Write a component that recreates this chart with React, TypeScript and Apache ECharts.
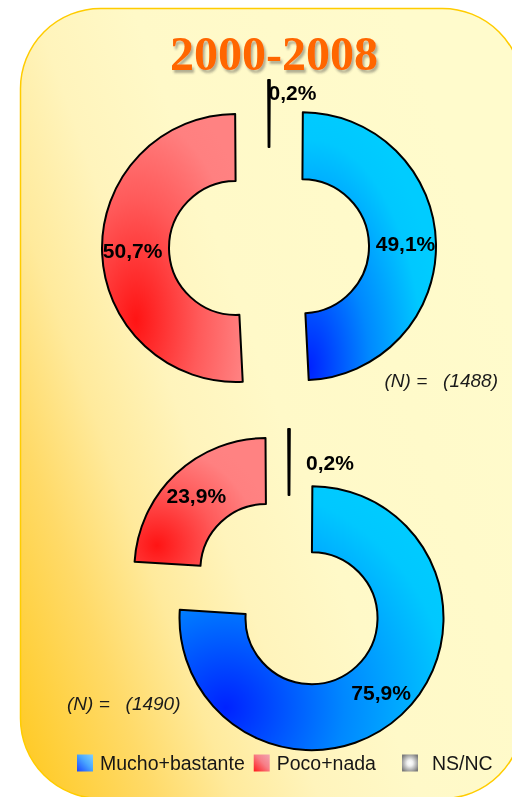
import React, { useEffect, useRef } from 'react';
import * as echarts from 'echarts';

const categories = ['NS/NC', 'Mucho+bastante', 'Poco+nada'];
const values2000 = [0.2, 49.1, 50.7];
const values2008 = [0.2, 75.9, 23.9];
const sampleSizes = [1488, 1490];
const titleText = '2000-2008';

type Stop = [number, string];
const radial = (x: number, y: number, r: number, stops: Stop[]) => ({
  type: 'radial', x, y, r,
  colorStops: stops.map(([offset, color]) => ({ offset, color })),
});
const linear = (stops: Stop[]) => ({
  type: 'linear', x: 0, y: 1, x2: 1, y2: 0,
  colorStops: stops.map(([offset, color]) => ({ offset, color })),
});

const blueStops: Stop[] = [[0, '#0022ff'], [0.45, '#0088ff'], [0.85, '#00c8ff'], [1, '#00ccff']];
const redStops: Stop[] = [[0, '#ff1414'], [0.5, '#ff5a5a'], [0.85, '#ff8080'], [1, '#ff8282']];
const greyStops: Stop[] = [[0, '#ffffff'], [0.35, '#e6e6e6'], [1, '#777777']];
const legendBlue: Stop[] = [[0, '#1a44ff'], [0.55, '#4aa8ff'], [1, '#80d0ff']];
const legendRed: Stop[] = [[0, '#ff1a1a'], [0.55, '#f77f88'], [1, '#f2a4b0']];
const legendGrey: Stop[] = [[0, '#ffffff'], [0.3, '#f0f0f0'], [1, '#7c7c7c']];

const labelFont = 'Arial, "Liberation Sans", sans-serif';
const fmt = (p: any) => Number(p.value).toFixed(1).replace('.', ',') + '%';

function makePie(values: number[], center: number[], radius: number[], grads: any[], nsShift: number[]) {
  return {
    type: 'pie',
    center,
    radius,
    startAngle: 90 + values[0] * 1.8,
    clockwise: true,
    selectedMode: 'multiple',
    selectedOffset: 33,
    silent: true,
    itemStyle: { borderColor: '#000', borderWidth: 2 },
    label: {
      show: true, position: 'inside', formatter: fmt, color: '#000',
      fontSize: 21, fontWeight: 'bold', fontFamily: labelFont,
    },
    labelLine: { show: false },
    labelLayout: (p: any) => (p.dataIndex === 0 ? { dx: nsShift[0], dy: nsShift[1] } : {}),
    emphasis: { disabled: true },
    select: {
      itemStyle: { borderColor: '#000', borderWidth: 2 },
      label: { color: '#000', fontSize: 21, fontWeight: 'bold', fontFamily: labelFont },
    },
    data: categories.map((name, i) => ({
      name, value: values[i], selected: true, itemStyle: { color: grads[i] },
    })),
  };
}

export default function App() {
  const ref = useRef<HTMLDivElement>(null);
  useEffect(() => {
    if (!ref.current) return;
    const chart = echarts.init(ref.current, undefined, { renderer: 'svg' });
    const legendText = {
      fontFamily: 'Arial, "Liberation Sans", sans-serif',
      fontSize: 19.5, color: '#161616',
    };
    chart.setOption({
      animation: false,
      graphic: [
        {
          type: 'rect', z: -10,
          shape: { x: 20.5, y: 8.5, width: 502, height: 790, r: 80 },
          style: {
            fill: {
              type: 'linear', x: 0, y: 1, x2: 1, y2: 0.43,
              colorStops: [
                { offset: 0, color: '#ffc81c' }, { offset: 0.2, color: '#ffda68' },
                { offset: 0.32, color: '#ffea9c' }, { offset: 0.45, color: '#fff4bc' },
                { offset: 0.6, color: '#fff9c8' }, { offset: 1, color: '#fffbcc' },
              ],
            },
            stroke: '#ffcc00', lineWidth: 1.5,
          },
        },
        {
          type: 'text', z: 10, x: 274, y: 53,
          style: {
            text: titleText, fill: '#ff6600',
            font: 'bold 48px "Liberation Serif", "Times New Roman", serif',
            align: 'center', verticalAlign: 'middle',
            textShadowColor: 'rgba(60,60,60,0.4)', textShadowOffsetX: 2, textShadowOffsetY: 3, textShadowBlur: 2,
          },
        },
        {
          type: 'text', z: 10, x: 498, y: 380,
          style: {
            text: '(N) =   (' + sampleSizes[0] + ')', fill: '#1a1a1a',
            font: 'italic 19px Arial, "Liberation Sans", sans-serif', align: 'right', verticalAlign: 'middle',
          },
        },
        {
          type: 'text', z: 10, x: 67, y: 703,
          style: {
            text: '(N) =   (' + sampleSizes[1] + ')', fill: '#1a1a1a',
            font: 'italic 19px Arial, "Liberation Sans", sans-serif', align: 'left', verticalAlign: 'middle',
          },
        },
      ],
      legend: [
        {
          left: 77, top: 753, padding: 0, itemWidth: 16, itemHeight: 17, itemGap: 9,
          icon: 'rect', selectedMode: false, itemStyle: { borderWidth: 0 },
          data: [
            { name: categories[1], itemStyle: { color: linear(legendBlue) } },
            { name: categories[2], itemStyle: { color: linear(legendRed) } },
          ],
          textStyle: { ...legendText, padding: [0, 0, 0, 2] },
        },
        {
          left: 402, top: 753, padding: 0, itemWidth: 16, itemHeight: 17,
          icon: 'rect', selectedMode: false, itemStyle: { borderWidth: 0 },
          data: [{ name: categories[0], itemStyle: { color: radial(0.5, 0.5, 0.6, legendGrey) } }],
          textStyle: { ...legendText, padding: [0, 0, 0, 9] },
        },
      ],
      series: [
        makePie(values2000, [269, 247], [67, 134], [
          radial(0.5, 0.5, 0.6, greyStops),
          radial(0.05, 0.95, 1, blueStops),
          radial(0.24, 0.77, 0.9, redStops),
        ], [23.5, -18]),
        makePie(values2008, [289, 594], [66, 132], [
          radial(0.5, 0.5, 0.6, greyStops),
          radial(0.175, 0.84, 1, blueStops),
          radial(0.17, 0.84, 0.9, redStops),
        ], [41, 3]),
      ],
    });
    return () => chart.dispose();
  }, []);
  return (
    <div
      ref={ref}
      style={{ position: 'fixed', left: 0, top: 0, width: 512, height: 797 }}
    />
  );
}
